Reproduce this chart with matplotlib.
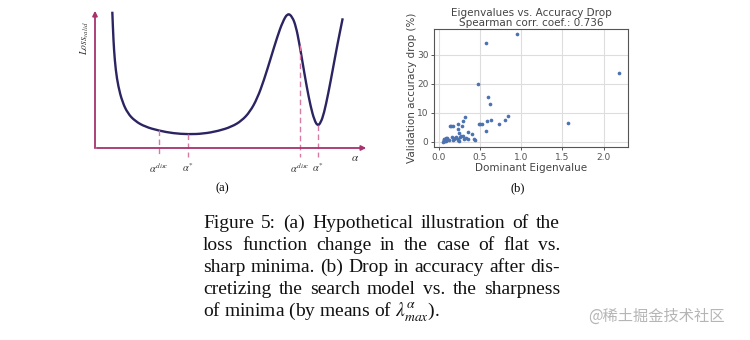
import matplotlib
matplotlib.use("Agg")
import matplotlib.pyplot as plt
from matplotlib.path import Path
from matplotlib.patches import PathPatch
import numpy as np

# (a) hypothetical loss curve
loss_alpha = [17.3, 18.0, 19.0, 20.7, 23.3, 27.3, 32.7, 40.0, 50.0, 64.0, 78.3, 93.3,
              108.3, 123.3, 136.7, 146.7, 155.0, 162.3, 169.0, 175.7, 182.3, 187.7,
              192.7, 197.3, 201.0, 204.3, 207.7, 211.7, 215.7, 219.3, 222.7, 225.7,
              229.0, 233.3, 237.7, 242.3, 247.7]
loss_value = [136.3, 118.0, 98.0, 78.0, 61.3, 46.3, 34.7, 27.0, 21.3, 17.3, 14.7, 13.7,
              14.3, 17.0, 21.3, 27.3, 36.3, 49.7, 68.0, 89.7, 111.3, 126.3,
              135.0, 131.3, 121.3, 104.7, 84.7, 61.3, 41.3, 28.0, 22.0, 25.3,
              34.7, 54.7, 78.0, 103.0, 129.7]
mark_alpha = [64, 93, 205, 223]
mark_loss = [18.0, 13.7, 103.0, 23.0]
mark_labels = [r"$\alpha^{disc}$", r"$\alpha^{*}$", r"$\alpha^{disc}$", r"$\alpha^{*}$"]

# (b) eigenvalue vs accuracy drop
eig = [0.95, 0.58, 0.48, 0.60, 0.62, 2.19, 1.57, 0.84, 0.80, 0.73, 0.64, 0.59, 0.58,
       0.53, 0.50, 0.49, 0.32, 0.29, 0.28, 0.24, 0.23, 0.17, 0.14, 0.15, 0.41, 0.36,
       0.44, 0.43, 0.36, 0.33, 0.25, 0.26, 0.24, 0.23, 0.25, 0.29, 0.20, 0.17, 0.16,
       0.10, 0.09, 0.08, 0.07, 0.06, 0.05, 0.06, 0.08, 0.10, 0.12, 0.19, 0.27, 0.31,
       0.21, 0.07, 0.09]
drop = [37.0, 34.0, 19.9, 15.6, 13.1, 23.7, 6.5, 8.9, 7.6, 6.1, 7.7, 7.1, 3.8,
        6.3, 6.2, 6.0, 8.7, 7.2, 5.4, 6.0, 4.4, 5.6, 5.6, 5.5, 2.6, 3.3,
        0.5, 0.9, 1.1, 1.4, 2.9, 1.7, 1.1, 0.8, 0.3, 1.9, 1.5, 0.8, 1.7,
        1.5, 1.3, 1.0, 0.7, 0.3, 0.1, 0.5, 0.2, 0.9, 0.6, 1.1, 2.2, 1.0,
        1.6, 1.1, 0.4]
xticks_b = [0.0, 0.5, 1.0, 1.5, 2.0]
yticks_b = [0, 10, 20, 30]

caption = ["Figure 5: (a) Hypothetical illustration of the",
           "loss function change in the case of flat vs.",
           "sharp minima. (b) Drop in accuracy after dis-",
           "cretizing the search model vs. the sharpness",
           r"of minima (by means of $\lambda^{\alpha}_{max}$)."]

plt.rcParams['mathtext.fontset'] = 'stix'
W, H = 750, 340
fig = plt.figure(figsize=(7.5, 3.4), dpi=100)

axis_col = '#a6336e'
dash_col = '#d87aa6'
curve_col = '#2b2462'

# ---- panel (a)
axa = fig.add_axes([95 / W, (H - 148) / H, 272 / W, 138 / H])
axa.set_xlim(0, 272)
axa.set_ylim(0, 138)
axa.axis('off')
axa.annotate('', xy=(274, 0), xytext=(-1, 0), annotation_clip=False,
             arrowprops=dict(arrowstyle='-|>', color=axis_col, lw=1.3, mutation_scale=7))
axa.annotate('', xy=(0, 140), xytext=(0, -3), annotation_clip=False,
             arrowprops=dict(arrowstyle='-|>', color=axis_col, lw=1.3, mutation_scale=7))

# smooth curve: read points used as quadratic bezier control points
pts = list(zip(loss_alpha, loss_value))
verts = [pts[0]]
codes = [Path.MOVETO]
for i in range(1, len(pts) - 1):
    mid = ((pts[i][0] + pts[i + 1][0]) / 2, (pts[i][1] + pts[i + 1][1]) / 2)
    verts += [pts[i], mid]
    codes += [Path.CURVE3, Path.CURVE3]
verts.append(pts[-1])
codes.append(Path.LINETO)
axa.add_patch(PathPatch(Path(verts, codes), fill=False, edgecolor=curve_col, lw=1.7,
                        clip_on=False))

for a, l, lab in zip(mark_alpha, mark_loss, mark_labels):
    axa.plot([a, a], [l, -9], color=dash_col, lw=1.0, ls=(0, (4, 2.5)), clip_on=False)
    axa.text(a, -20, lab, ha='center', va='center', fontsize=7.5, color='#333333')
axa.text(260, -10, r"$\alpha$", ha='center', va='center', fontsize=8, color='#333333')
axa.text(-10, 110, r"$Loss_{valid}$", rotation=90, ha='center', va='center',
         fontsize=7, color='#333333')
fig.text(222 / W, 1 - 188 / H, "(a)", ha='center', va='center', fontsize=9,
         family='Liberation Serif')

# ---- panel (b)
axb = fig.add_axes([434 / W, (H - 147) / H, 194 / W, 118 / H])
axb.scatter(eig, drop, s=7, color='#4c72b0', zorder=3, linewidths=0)
axb.set_xticks(xticks_b)
axb.set_yticks(yticks_b)
axb.grid(True, color='#dddddd', lw=0.8)
axb.set_axisbelow(True)
for sp in axb.spines.values():
    sp.set_color('#555555')
    sp.set_linewidth(0.8)
axb.tick_params(labelsize=6.5, colors='#555555', length=2.5, width=0.7, pad=1.5)
axb.set_xlabel("Dominant Eigenvalue", fontsize=7.5, color='#444444', labelpad=1)
axb.set_ylabel("Validation accuracy drop (%)", fontsize=7.5, color='#444444', labelpad=0)
axb.set_title("Eigenvalues vs. Accuracy Drop\nSpearman corr. coef.: 0.736",
              fontsize=7.5, color='#444444', pad=2, linespacing=1.0)
fig.text(518 / W, 1 - 188 / H, "(b)", ha='center', va='center', fontsize=9,
         family='Liberation Serif')

# ---- caption, justified lines
left, right = 203, 560
line_y = [223, 245, 267, 290, 312]
fs = 14
fig.canvas.draw()
rend = fig.canvas.get_renderer()
for i, (line, yy) in enumerate(zip(caption, line_y)):
    if i == len(caption) - 1:
        fig.text(left / W, 1 - yy / H, line, ha='left', va='center', fontsize=fs,
                 family='Liberation Serif', color='#111111')
        continue
    words = line.split(' ')
    objs = [fig.text(0, 1 - yy / H, w, ha='left', va='center', fontsize=fs,
                     family='Liberation Serif', color='#111111') for w in words]
    widths = [o.get_window_extent(rend).width for o in objs]
    gap = (right - left - sum(widths)) / (len(words) - 1)
    x = left
    for o, w in zip(objs, widths):
        o.set_x(x / W)
        x += w + gap

fig.text(588 / W, 1 - 316 / H, "@稀土掘金技术社区", ha='left', va='center', fontsize=11,
         color='#b5b5b5', family=['Noto Sans CJK SC', 'DejaVu Sans'])

fig.savefig("out.png", dpi=100, facecolor='white')
